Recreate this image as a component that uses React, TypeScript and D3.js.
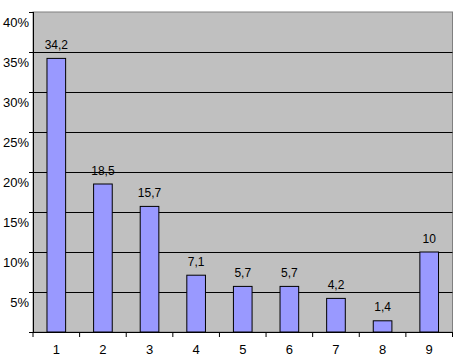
import React from "react";
import * as d3 from "d3";

const categories = ["1", "2", "3", "4", "5", "6", "7", "8", "9"];
const values = [34.2, 18.5, 15.7, 7.1, 5.7, 5.7, 4.2, 1.4, 10];
const yTicks = [0, 5, 10, 15, 20, 25, 30, 35, 40];
const yTickLabels = ["", "5%", "10%", "15%", "20%", "25%", "30%", "35%", "40%"];

export default function App() {
  const W = 456, H = 359;
  const left = 33, right = 452.5, top = 12, bottom = 332;
  const x = d3.scaleBand().domain(categories).range([left, right]).paddingInner(0.6).paddingOuter(0.3);
  const xb = d3.scaleBand().domain(categories).range([left, right]);
  const y = d3.scaleLinear().domain([0, 40]).range([bottom, top]);
  const font = "Arial, 'Liberation Sans', sans-serif";
  return (
    <svg width={W} height={H} style={{ position: "absolute", left: 0, top: 0, background: "#fff" }}>
      <rect x={left} y={top} width={right - left} height={bottom - top} fill="#C0C0C0" stroke="#808080" strokeWidth={1} />
      {yTicks.filter(t => t > 0 && t < 40).map(t => (
        <line key={t} x1={left} x2={right} y1={Math.round(y(t)) + 0.5} y2={Math.round(y(t)) + 0.5} stroke="#000" strokeWidth={1} />
      ))}
      {categories.map((c, i) => (
        <rect key={c} x={x(c)!} y={y(values[i])} width={x.bandwidth()} height={bottom - y(values[i])}
          fill="#9999FF" stroke="#000" strokeWidth={1} />
      ))}
      <line x1={left + 0.5} x2={left + 0.5} y1={top} y2={bottom} stroke="#000" />
      <line x1={left - 4} x2={right} y1={bottom + 0.5} y2={bottom + 0.5} stroke="#000" />
      {yTicks.map((t, i) => (
        <g key={t}>
          <line x1={left - 4} x2={left} y1={Math.round(y(t)) + 0.5} y2={Math.round(y(t)) + 0.5} stroke="#000" />
          <text x={left - 4} y={y(t) + 14.5} textAnchor="end" fontFamily={font} fontSize={13} fill="#000">{yTickLabels[i]}</text>
        </g>
      ))}
      {[...categories.map(c => xb(c)!), right].map((v, i) => (
        <line key={i} x1={v} x2={v} y1={bottom} y2={bottom + 5} stroke="#000" />
      ))}
      {categories.map(c => (
        <text key={c} x={xb(c)! + xb.bandwidth() / 2} y={bottom + 22} textAnchor="middle" fontFamily={font} fontSize={13} fill="#000">{c}</text>
      ))}
      {categories.map((c, i) => (
        <text key={c} x={x(c)! + x.bandwidth() / 2} y={y(values[i]) - 9.5} textAnchor="middle" fontFamily={font} fontSize={12} fill="#000">
          {String(values[i]).replace(".", ",")}
        </text>
      ))}
    </svg>
  );
}
